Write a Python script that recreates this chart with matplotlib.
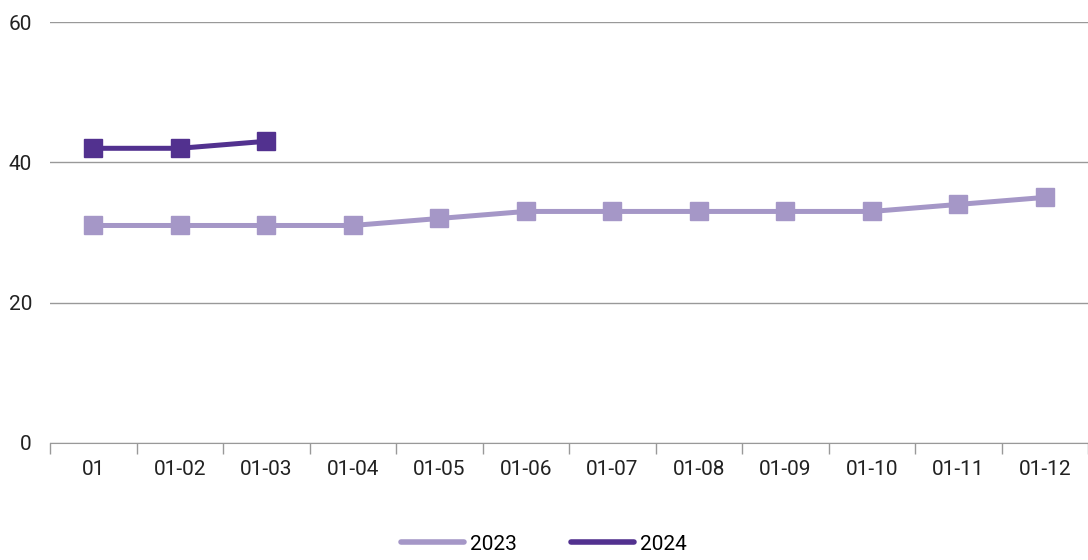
import matplotlib
matplotlib.use('Agg')
import matplotlib.pyplot as plt
import numpy as np

categories = ['01', '01-02', '01-03', '01-04', '01-05', '01-06',
              '01-07', '01-08', '01-09', '01-10', '01-11', '01-12']
values_2023 = [31, 31, 31, 31, 32, 33, 33, 33, 33, 33, 34, 35]
values_2024 = [42, 42, 43]

plt.rcParams['font.family'] = ['Roboto', 'DejaVu Sans']

fig = plt.figure(figsize=(10.88, 5.6), dpi=100)
ax = fig.add_axes([50 / 1088, 117 / 560, 1 - 50 / 1088, 421 / 560])

x = np.arange(len(categories))
ax.plot(x[:len(values_2023)], values_2023, color='#A597C7', linewidth=3.6,
        marker='s', markersize=12.5, label='2023')
ax.plot(x[:len(values_2024)], values_2024, color='#52318F', linewidth=3.6,
        marker='s', markersize=13.5, label='2024')

ax.set_xlim(-0.5, len(categories) - 0.5)
ax.set_ylim(0, 60)
ax.set_yticks([0, 20, 40, 60])
ax.yaxis.grid(True, color='#999999', linewidth=1)
ax.set_axisbelow(True)
ax.tick_params(axis='y', length=0, labelsize=15, pad=13, labelcolor='#222222')

ax.set_xticks(x)
ax.set_xticklabels(categories)
ax.set_xticks(np.arange(-0.5, len(categories)), minor=True)
ax.tick_params(axis='x', which='major', length=0, labelsize=15, pad=12, labelcolor='#222222')
ax.tick_params(axis='x', which='minor', length=8, color='#999999', width=1)

for side in ['top', 'right', 'left']:
    ax.spines[side].set_visible(False)
ax.spines['bottom'].set_color('#999999')

handles = [plt.Line2D([], [], color='#A597C7', linewidth=4, solid_capstyle='round'),
           plt.Line2D([], [], color='#52318F', linewidth=4, solid_capstyle='round')]
fig.legend(handles, ['2023', '2024'], loc='lower center', ncol=2, frameon=False,
           fontsize=15, bbox_to_anchor=(0.5, -0.022), handlelength=3.0,
           columnspacing=2.6, handletextpad=0.3)

fig.savefig('out.png', dpi=100, facecolor='white')
